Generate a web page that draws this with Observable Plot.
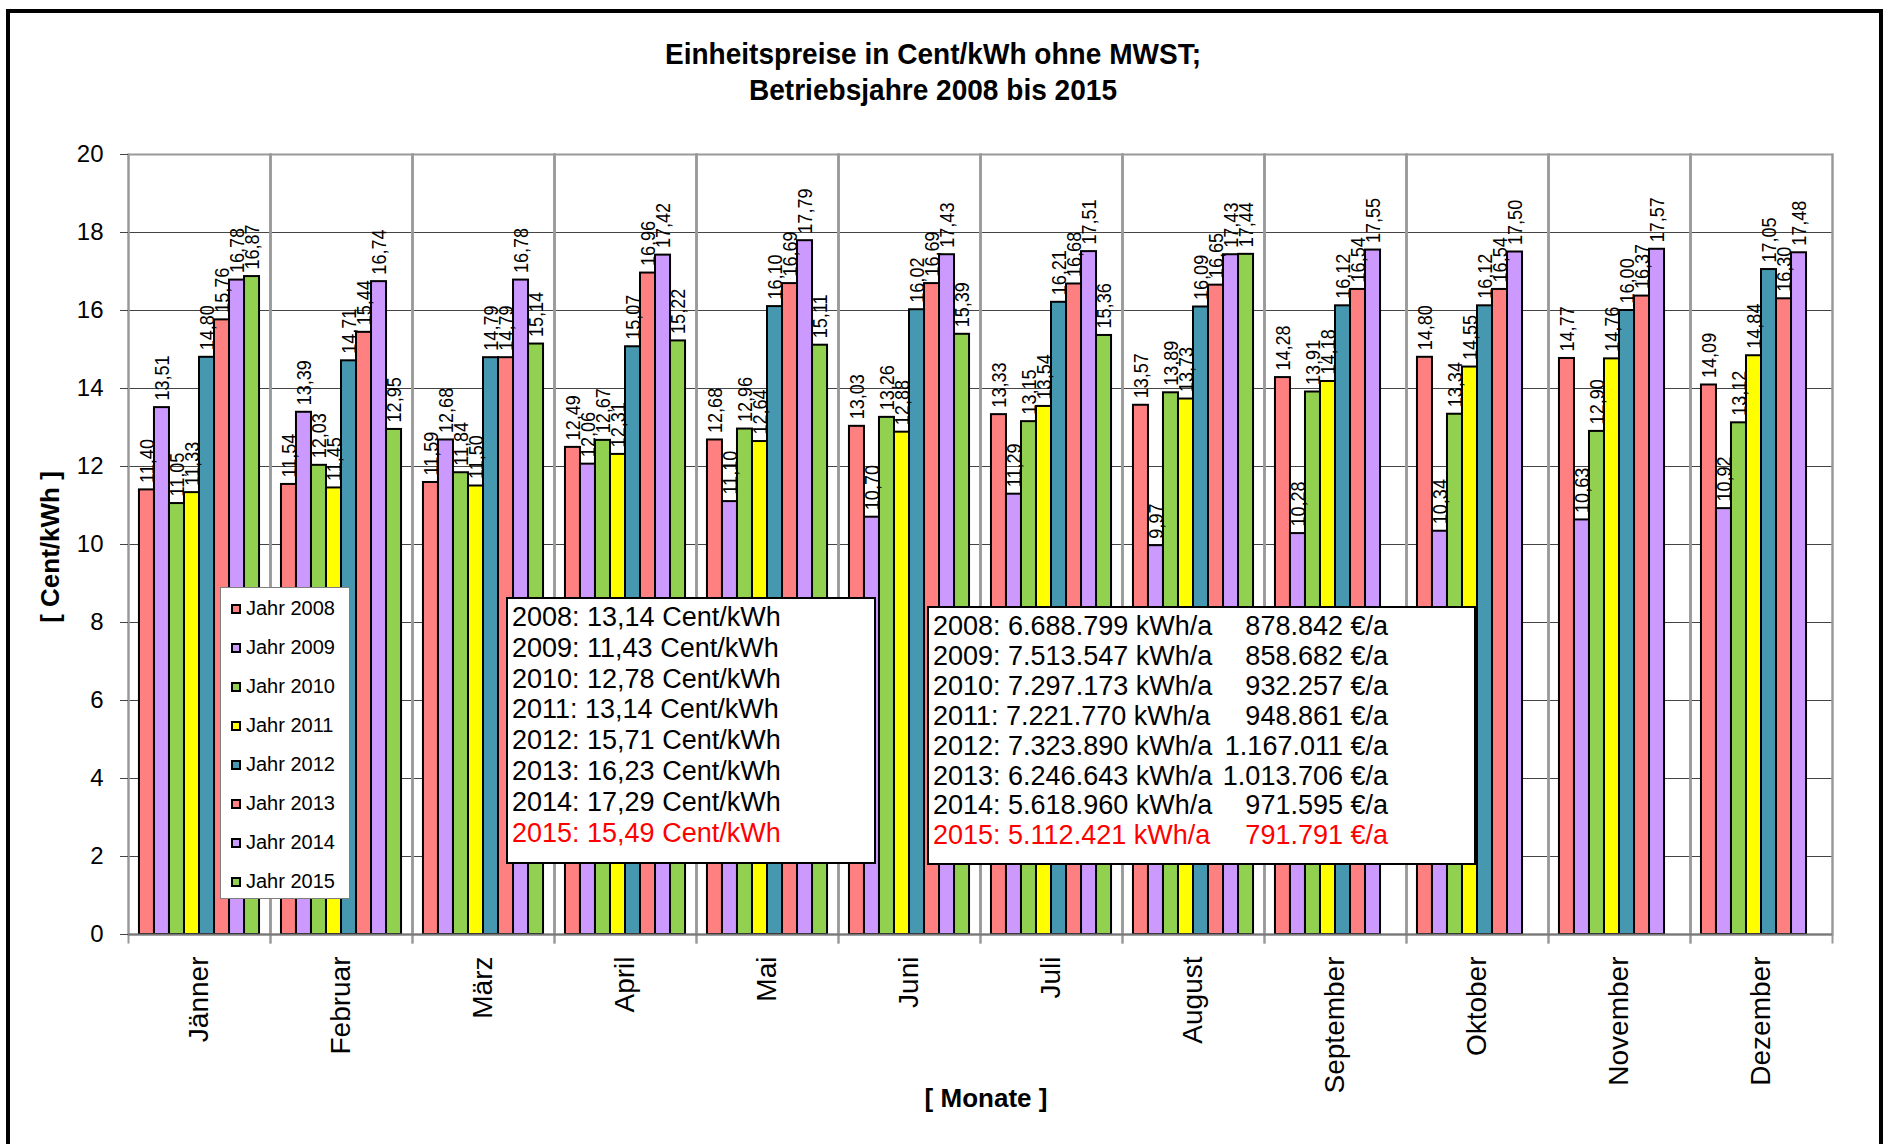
<!DOCTYPE html>
<html>
<head>
<meta charset="utf-8">
<script src="https://cdn.jsdelivr.net/npm/d3@7"></script>
<script src="https://cdn.jsdelivr.net/npm/@observablehq/plot@0.6"></script>
<style>
  html, body { margin: 0; padding: 0; background: #fff; }
  body { font-family: "Liberation Sans", Arial, sans-serif; color: #000; }
  #wrap { position: relative; width: 1885px; height: 1144px; overflow: hidden; background: #fff; }
  #outer { position: absolute; left: 6px; top: 9px; width: 1877px; height: 1140px; border: 4px solid #000; box-sizing: border-box; }
  #title { position: absolute; left: 0; top: 36px; width: 1866px; text-align: center; font-weight: bold; font-size: 30px; line-height: 36px; transform: scaleX(0.935); transform-origin: 933px 0; }
  #chart { position: absolute; left: 0; top: 120px; }
  .axtitle { position: absolute; font-weight: bold; font-size: 26px; white-space: nowrap; }
  #ytitle { left: 50px; top: 547px; transform: translate(-50%, -50%) rotate(-90deg); }
  #xtitle { left: 986px; top: 1098px; transform: translate(-50%, -50%); }
  #legend { position: absolute; left: 220px; top: 587px; width: 130px; height: 312px; border: 1px solid #7f7f7f; background: #fff; box-sizing: border-box; padding-top: 1px; }
  .li { height: 39px; display: flex; align-items: center; font-size: 20px; }
  .sw { width: 10px; height: 10px; border: 2px solid #000; box-sizing: border-box; margin-left: 10px; margin-right: 5px; }
  .box { position: absolute; background: #fff; border: 2px solid #000; box-sizing: border-box; font-size: 27px; white-space: nowrap; }
  #box1 { left: 506px; top: 597px; width: 370px; height: 267px; padding: 3px 0 0 4px; line-height: 30.8px; }
  #box2 { left: 927px; top: 606px; width: 549px; height: 259px; padding: 4px 0 0 4px; line-height: 29.9px; }
  #box2 .row { display: grid; grid-template-columns: 285px 170px; }
  #box2 .row span:last-child { text-align: right; }
  .red { color: #ff0000; }
</style>
</head>
<body>
<div id="wrap">
  <div id="outer"></div>
  <div id="title"></div>
  <div id="chart"></div>
  <div id="ytitle" class="axtitle"></div>
  <div id="xtitle" class="axtitle"></div>
  <div id="legend"></div>
  <div id="box1" class="box"></div>
  <div id="box2" class="box"></div>
</div>
<script>
// ---- Texts ----
const titleLines = ["Einheitspreise in Cent/kWh ohne MWST;", "Betriebsjahre 2008 bis 2015"];
const yTitle = "[ Cent/kWh ]";
const xTitle = "[ Monate ]";

// ---- Categories ----
const months = ["Jänner", "Februar", "März", "April", "Mai", "Juni", "Juli", "August", "September", "Oktober", "November", "Dezember"];
const years = ["2008", "2009", "2010", "2011", "2012", "2013", "2014", "2015"];
const colors = ["#FF8080", "#CC99FF", "#92D050", "#FFFF00", "#4698B0", "#FF8080", "#CC99FF", "#92D050"];
const yTicks = [0, 2, 4, 6, 8, 10, 12, 14, 16, 18, 20];

// ---- Series values (Cent/kWh) ----
const v2008 = [11.40, 11.54, 11.59, 12.49, 12.68, 13.03, 13.33, 13.57, 14.28, 14.80, 14.77, 14.09];
const v2009 = [13.51, 13.39, 12.68, 12.06, 11.10, 10.70, 11.29, 9.97, 10.28, 10.34, 10.63, 10.92];
const v2010 = [11.05, 12.03, 11.84, 12.67, 12.96, 13.26, 13.15, 13.89, 13.91, 13.34, 12.90, 13.12];
const v2011 = [11.33, 11.45, 11.50, 12.31, 12.64, 12.88, 13.54, 13.73, 14.18, 14.55, 14.76, 14.84];
const v2012 = [14.80, 14.71, 14.79, 15.07, 16.10, 16.02, 16.21, 16.09, 16.12, 16.12, 16.00, 17.05];
const v2013 = [15.76, 15.44, 14.79, 16.96, 16.69, 16.69, 16.68, 16.65, 16.54, 16.54, 16.37, 16.30];
const v2014 = [16.78, 16.74, 16.78, 17.42, 17.79, 17.43, 17.51, 17.43, 17.55, 17.50, 17.57, 17.48];
const v2015 = [16.87, 12.95, 15.14, 15.22, 15.11, 15.39, 15.36, 17.44, null, null, null, null];

// ---- Annotation boxes ----
const avgPrice = ["13,14", "11,43", "12,78", "13,14", "15,71", "16,23", "17,29", "15,49"];
const annualKWh = ["6.688.799", "7.513.547", "7.297.173", "7.221.770", "7.323.890", "6.246.643", "5.618.960", "5.112.421"];
const annualEUR = ["878.842", "858.682", "932.257", "948.861", "1.167.011", "1.013.706", "971.595", "791.791"];

const series = [v2008, v2009, v2010, v2011, v2012, v2013, v2014, v2015];
const data = [];
months.forEach((m, i) => {
  years.forEach((yr, j) => {
    const v = series[j][i];
    if (v != null) data.push({month: m, year: yr, value: v});
  });
});
const fmt = v => v.toFixed(2).replace(".", ",");

// ---- HTML texts ----
document.getElementById("title").innerHTML = titleLines.join("<br>");
document.getElementById("ytitle").textContent = yTitle;
document.getElementById("xtitle").textContent = xTitle;

const legend = document.getElementById("legend");
years.forEach((yr, j) => {
  const row = document.createElement("div");
  row.className = "li";
  const sw = document.createElement("div");
  sw.className = "sw";
  sw.style.background = colors[j];
  const t = document.createElement("span");
  t.textContent = "Jahr " + yr;
  row.appendChild(sw); row.appendChild(t);
  legend.appendChild(row);
});

const box1 = document.getElementById("box1");
const box2 = document.getElementById("box2");
years.forEach((yr, j) => {
  const last = j === years.length - 1;
  const d1 = document.createElement("div");
  d1.textContent = `${yr}: ${avgPrice[j]} Cent/kWh`;
  if (last) d1.className = "red";
  box1.appendChild(d1);
  const d2 = document.createElement("div");
  d2.className = "row" + (last ? " red" : "");
  const a = document.createElement("span");
  a.textContent = `${yr}: ${annualKWh[j]} kWh/a`;
  const b = document.createElement("span");
  b.textContent = `${annualEUR[j]} €/a`;
  d2.appendChild(a); d2.appendChild(b);
  box2.appendChild(d2);
});

// ---- Chart ----
const chart = Plot.plot({
  width: 1885,
  height: 1024,
  marginLeft: 128,
  marginRight: 53,
  marginTop: 34,
  marginBottom: 210,
  style: {fontFamily: "'Liberation Sans', Arial, sans-serif", fontSize: "18px", color: "black", background: "transparent", overflow: "visible"},
  fx: {domain: months, padding: 0, round: false, label: null},
  x: {domain: years, paddingInner: 0, paddingOuter: 0.73, round: false, axis: null},
  y: {domain: [0, 20], label: null},
  color: {domain: years, range: colors},
  marks: [
    Plot.ruleY(yTicks.slice(1, -1), {stroke: "#444", strokeWidth: 1}),
    Plot.frame({stroke: "#999", strokeWidth: 2}),
    Plot.frame({anchor: "left", stroke: "#999", strokeWidth: 2, insetBottom: -8}),
    Plot.frame({anchor: "right", stroke: "#999", strokeWidth: 2, insetBottom: -8}),
    Plot.barY(data, {fx: "month", x: "year", y: "value", fill: "year", stroke: "black", strokeWidth: 2}),
    Plot.ruleY([0], {stroke: "#777", strokeWidth: 2}),
    Plot.text(data, {fx: "month", x: "year", y: "value", text: d => fmt(d.value), rotate: -90, textAnchor: "start", lineAnchor: "middle", dy: -7, fontSize: 21, fill: "black", className: "vlabel"}),
    Plot.axisY({ticks: yTicks, tickSize: 8, tickPadding: 17, fontSize: 24, stroke: "#444", label: null}),
    Plot.axisFx({anchor: "bottom", tickRotate: -90, tickSize: 0, tickPadding: 22, fontSize: 28, label: null})
  ]
});
// the reference's rotated value labels are slightly condensed along the text direction
chart.querySelectorAll(".vlabel text").forEach(t => {
  const tr = t.getAttribute("transform") || "";
  t.setAttribute("transform", tr + " scale(0.86,1)");
});
document.getElementById("chart").appendChild(chart);
</script>
</body>
</html>
